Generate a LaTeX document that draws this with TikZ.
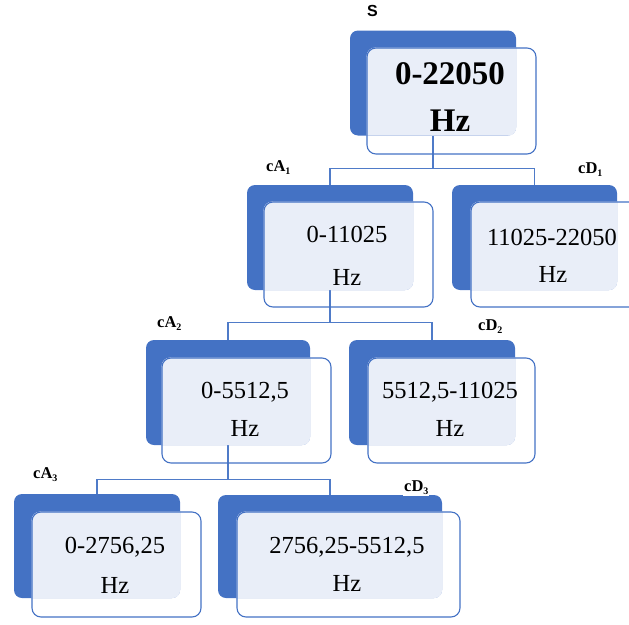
\documentclass[tikz,border=0pt]{standalone}
\usepackage{fontspec}
\setmainfont{Liberation Serif}
\newfontfamily\lsans{Liberation Sans}
\definecolor{dk}{HTML}{4472C4}
\definecolor{lt}{HTML}{E9EEF8}
\definecolor{ln}{HTML}{4F7BC8}
\pgfdeclarelayer{connlayer}
\pgfdeclarelayer{darklayer}
\pgfdeclarelayer{filllayer}
\pgfsetlayers{connlayer,darklayer,filllayer,main}
\newcommand\sbs[1]{\raisebox{-0.45ex}{\fontsize{10}{10}\selectfont #1}}
\newcommand\mkovl[2]{\begin{scope}\clip[rounded corners=8pt] (#1.north west) rectangle (#1.south east);
  \fill[lt, rounded corners=9pt] (#2.north west) rectangle (#2.south east);\end{scope}}
\begin{document}
\begin{tikzpicture}[x=1pt,y=-1pt,
  darkbox/.style={fill=dk, rounded corners=8pt, inner sep=0pt, minimum width=166pt, minimum height=105pt},
  frontbox/.style={draw=dk, line width=1.1pt, rounded corners=9pt, inner sep=0pt, minimum width=169pt, minimum height=105pt},
  txt/.style={inner sep=0pt, font=\fontsize{24.5}{26}\selectfont},
  btxt/.style={inner sep=0pt, font=\bfseries\fontsize{33}{35}\selectfont},
  lab/.style={inner sep=1pt, fill=white, font=\bfseries\fontsize{16.5}{16.5}\selectfont},
  conn/.style={draw=ln, line width=1.1pt}]
\useasboundingbox (0,0) rectangle (629,624);

% back (dark) boxes
\begin{pgfonlayer}{darklayer}
\node[darkbox] (SB) at (433,83) {};
\node[darkbox] (A1B) at (330,237.5) {};
\node[darkbox, minimum width=165pt] (D1B) at (534.5,237.5) {};
\node[darkbox, minimum width=164pt] (A2B) at (228,392.5) {};
\node[darkbox] (D2B) at (432,392.5) {};
\node[darkbox, minimum height=104pt] (A3B) at (97,546) {};
\node[darkbox, minimum width=224pt, minimum height=103pt] (D3B) at (330,546.5) {};
\end{pgfonlayer}

% front boxes
\node[frontbox, minimum height=106pt] (SF) at (451.5,101) {};
\node[frontbox] (A1F) at (348.5,254.5) {};
\node[frontbox] (D1F) at (555.5,254.5) {};
\node[frontbox] (A2F) at (246.5,410.5) {};
\node[frontbox, minimum width=167pt] (D2F) at (451.5,410.5) {};
\node[frontbox] (A3F) at (116.5,564.5) {};
\node[frontbox, minimum width=223pt] (D3F) at (348.5,564.5) {};

% overlap fills
\begin{pgfonlayer}{filllayer}
\mkovl{SB}{SF}
\mkovl{A1B}{A1F}
\mkovl{D1B}{D1F}
\mkovl{A2B}{A2F}
\mkovl{D2B}{D2F}
\mkovl{A3B}{A3F}
\mkovl{D3B}{D3F}
\end{pgfonlayer}

% texts
\node[btxt] (St1) at (450,74) {0-22050};
\node[btxt] (St2) at (450,121) {Hz};
\node[txt] (A1t1) at (347,234) {0-11025};
\node[txt] (A1t2) at (347,277) {Hz};
\node[txt] (D1t1) at (552,237) {11025-22050};
\node[txt] (D1t2) at (553,274) {Hz};
\node[txt] (A2t1) at (245,392) {0-5512,5};
\node[txt] (A2t2) at (245,428) {Hz};
\node[txt] (D2t1) at (450,392) {5512,5-11025};
\node[txt] (D2t2) at (450,428) {Hz};
\node[txt] (A3t1) at (115,547) {0-2756,25};
\node[txt] (A3t2) at (115,585) {Hz};
\node[txt] (D3t1) at (347,547) {2756,25-5512,5};
\node[txt] (D3t2) at (347,583) {Hz};

% labels
\node[lab, anchor=base west, font=\lsans\bfseries\fontsize{16}{16}\selectfont] (LS) at (366,16) {S};
\node[lab, anchor=base west] (LA1) at (265,171) {cA\sbs{1}};
\node[lab, anchor=base west] (LD1) at (577,173) {cD\sbs{1}};
\node[lab, anchor=base west] (LA2) at (156,327) {cA\sbs{2}};
\node[lab, anchor=base west] (LD2) at (477,330) {cD\sbs{2}};
\node[lab, anchor=base west] (LA3) at (32,478) {cA\sbs{3}};
\node[lab, anchor=base west] (LD3) at (403,491) {cD\sbs{3}};

% connectors
\begin{pgfonlayer}{connlayer}
\coordinate (j1) at ([yshift=16pt]A1B.north);
\coordinate (j2) at ([yshift=17pt]A2B.north);
\coordinate (j3) at ([yshift=14pt]A3B.north);
\draw[conn] (SB.south) -- (SB.south |- j1);
\draw[conn] (A1B.north) -- (j1) -| (D1B.north);
\draw[conn] (A1B.south) -- (A1B.south |- j2);
\draw[conn] (A2B.north) -- (j2) -| (D2B.north);
\draw[conn] (A2B.south) -- (A2B.south |- j3);
\draw[conn] (A3B.north) -- (j3) -| (D3B.north);
\end{pgfonlayer}
\end{tikzpicture}
\end{document}
